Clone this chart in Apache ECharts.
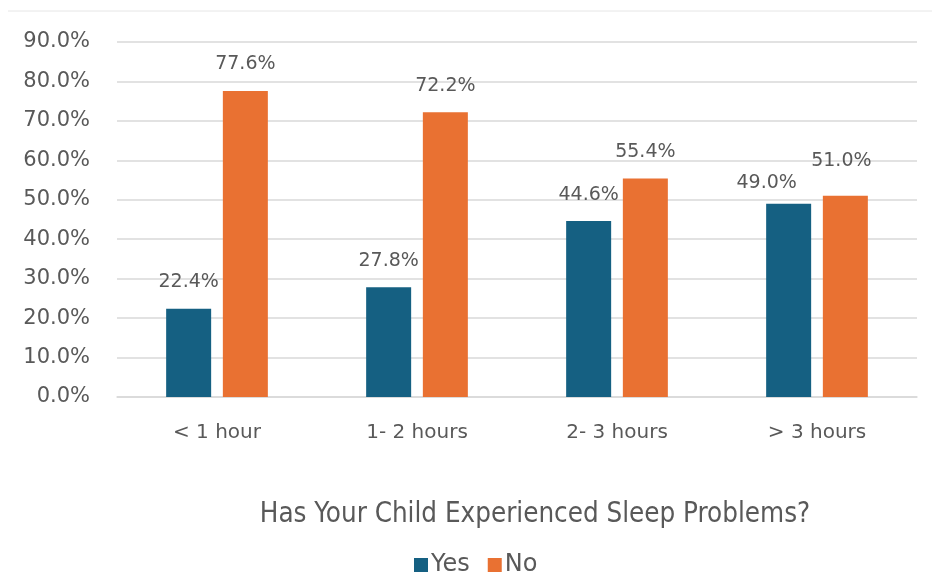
<!DOCTYPE html>
<html><head><meta charset="utf-8">
<script src="https://cdn.jsdelivr.net/npm/echarts@6/dist/echarts.min.js"></script>
<style>html,body{margin:0;padding:0;background:#fff}#c{width:932px;height:578px}</style>
</head><body><div id="c"></div>
<script>
const categories = ['< 1 hour', '1- 2 hours', '2- 3 hours', '> 3 hours'];
const yesValues = [22.4, 27.8, 44.6, 49.0];
const noValues = [77.6, 72.2, 55.4, 51.0];
const seriesNames = ['Yes', 'No'];
const titleText = 'Has Your Child Experienced Sleep Problems?';
// manual label nudges (as in the source chart, last group labels moved apart)
const yesLabelOffsets = [null, null, null, [-22, 6]];
const noLabelOffsets = [null, null, null, [-4, -8]];

const chart = echarts.init(document.getElementById('c'));
const labelStyle = {
  show: true, position: 'top', distance: 17,
  formatter: p => p.value.toFixed(1) + '%',
  color: '#595959', fontSize: 19, fontFamily: 'DejaVu Sans'
};
const withOffsets = (vals, offs) => vals.map((v, i) => offs[i] ? { value: v, label: { offset: offs[i] } } : v);
chart.setOption({
  animation: false,
  title: {
    text: titleText, left: 530, textAlign: 'center', top: 496,
    textStyle: { color: '#595959', fontSize: 27.5, fontWeight: 'normal', fontFamily: 'DejaVu Sans Condensed' }
  },
  legend: {
    data: seriesNames, left: 409, top: 548, itemWidth: 14, itemHeight: 14, itemGap: 18,
    icon: 'rect',
    textStyle: { color: '#595959', fontSize: 24, fontFamily: 'DejaVu Sans', padding: [0, 0, 0, -2] }
  },
  graphic: [{ type: 'line', shape: { x1: 8, y1: 11, x2: 932, y2: 11 }, style: { stroke: '#e6e6e6', lineWidth: 1 } }],
  grid: { left: 117, right: 15, top: 42, bottom: 181 },
  xAxis: {
    type: 'category', data: categories,
    axisLine: { lineStyle: { color: '#d9d9d9', width: 1.5 } }, axisTick: { show: false },
    axisLabel: { color: '#595959', fontSize: 20, margin: 26, fontFamily: 'DejaVu Sans' }
  },
  yAxis: {
    type: 'value', min: 0, max: 90, interval: 10,
    axisLabel: { formatter: v => v.toFixed(1) + '%', color: '#595959', fontSize: 21, margin: 27, fontFamily: 'DejaVu Sans' },
    splitLine: { lineStyle: { color: '#d9d9d9', width: 1.5 } }
  },
  series: [
    { name: seriesNames[0], type: 'bar', data: withOffsets(yesValues, yesLabelOffsets), barWidth: 45, barGap: '26%',
      itemStyle: { color: '#156082' }, label: labelStyle },
    { name: seriesNames[1], type: 'bar', data: withOffsets(noValues, noLabelOffsets), barWidth: 45,
      itemStyle: { color: '#E97132' }, label: labelStyle }
  ]
});
</script></body></html>
